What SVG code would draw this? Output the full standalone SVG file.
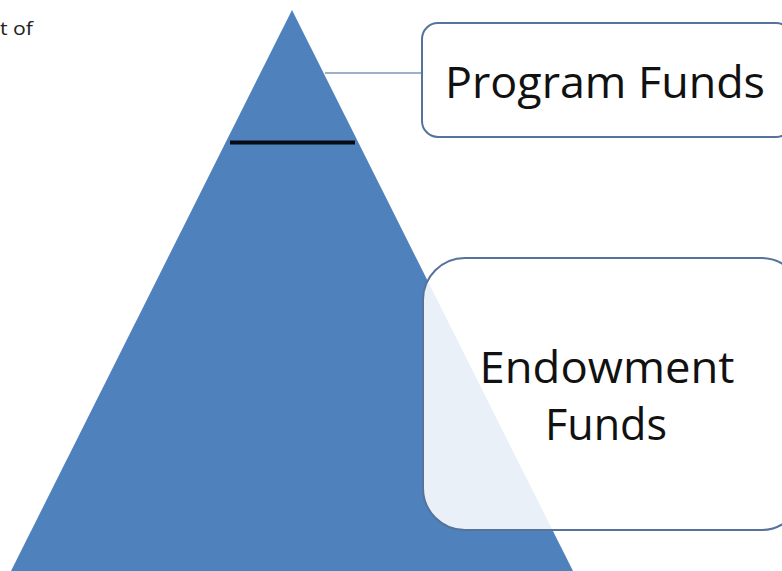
<svg xmlns="http://www.w3.org/2000/svg" width="782" height="571" viewBox="0 0 782 571">
<style>
.lbl{font-family:"Open Sans","Liberation Sans",sans-serif;fill:#111;text-anchor:middle}
.box{stroke:#56739b;stroke-width:2}
</style>
<rect width="782" height="571" fill="#fff"/>
<text x="0" y="35" textLength="33" lengthAdjust="spacingAndGlyphs" style="font-family:'Open Sans','Liberation Sans',sans-serif;font-size:18px;fill:#222">t of</text>
<g id="pyramid">
<polygon points="292,10 573,571 11,571" fill="#4f81bd"/>
<line x1="230" y1="142.5" x2="355" y2="142.5" stroke="#050a14" stroke-width="4"/>
</g>
<g id="connectors">
<line x1="325" y1="73" x2="422" y2="73" stroke="#7f97b5" stroke-width="1.5"/>
</g>
<g id="program-funds">
<rect class="box" x="422" y="23" width="370" height="114" rx="16" fill="#fff"/>
<text class="lbl" x="605" y="98" font-size="44" textLength="320" lengthAdjust="spacingAndGlyphs">Program Funds</text>
</g>
<g id="endowment-funds">
<rect class="box" x="423" y="258" width="380" height="272" rx="42" fill="#fff" fill-opacity="0.88"/>
<text class="lbl" x="607" y="383" font-size="44" textLength="255" lengthAdjust="spacingAndGlyphs">Endowment</text>
<text class="lbl" x="606" y="440" font-size="44" textLength="122" lengthAdjust="spacingAndGlyphs">Funds</text>
</g>
</svg>
